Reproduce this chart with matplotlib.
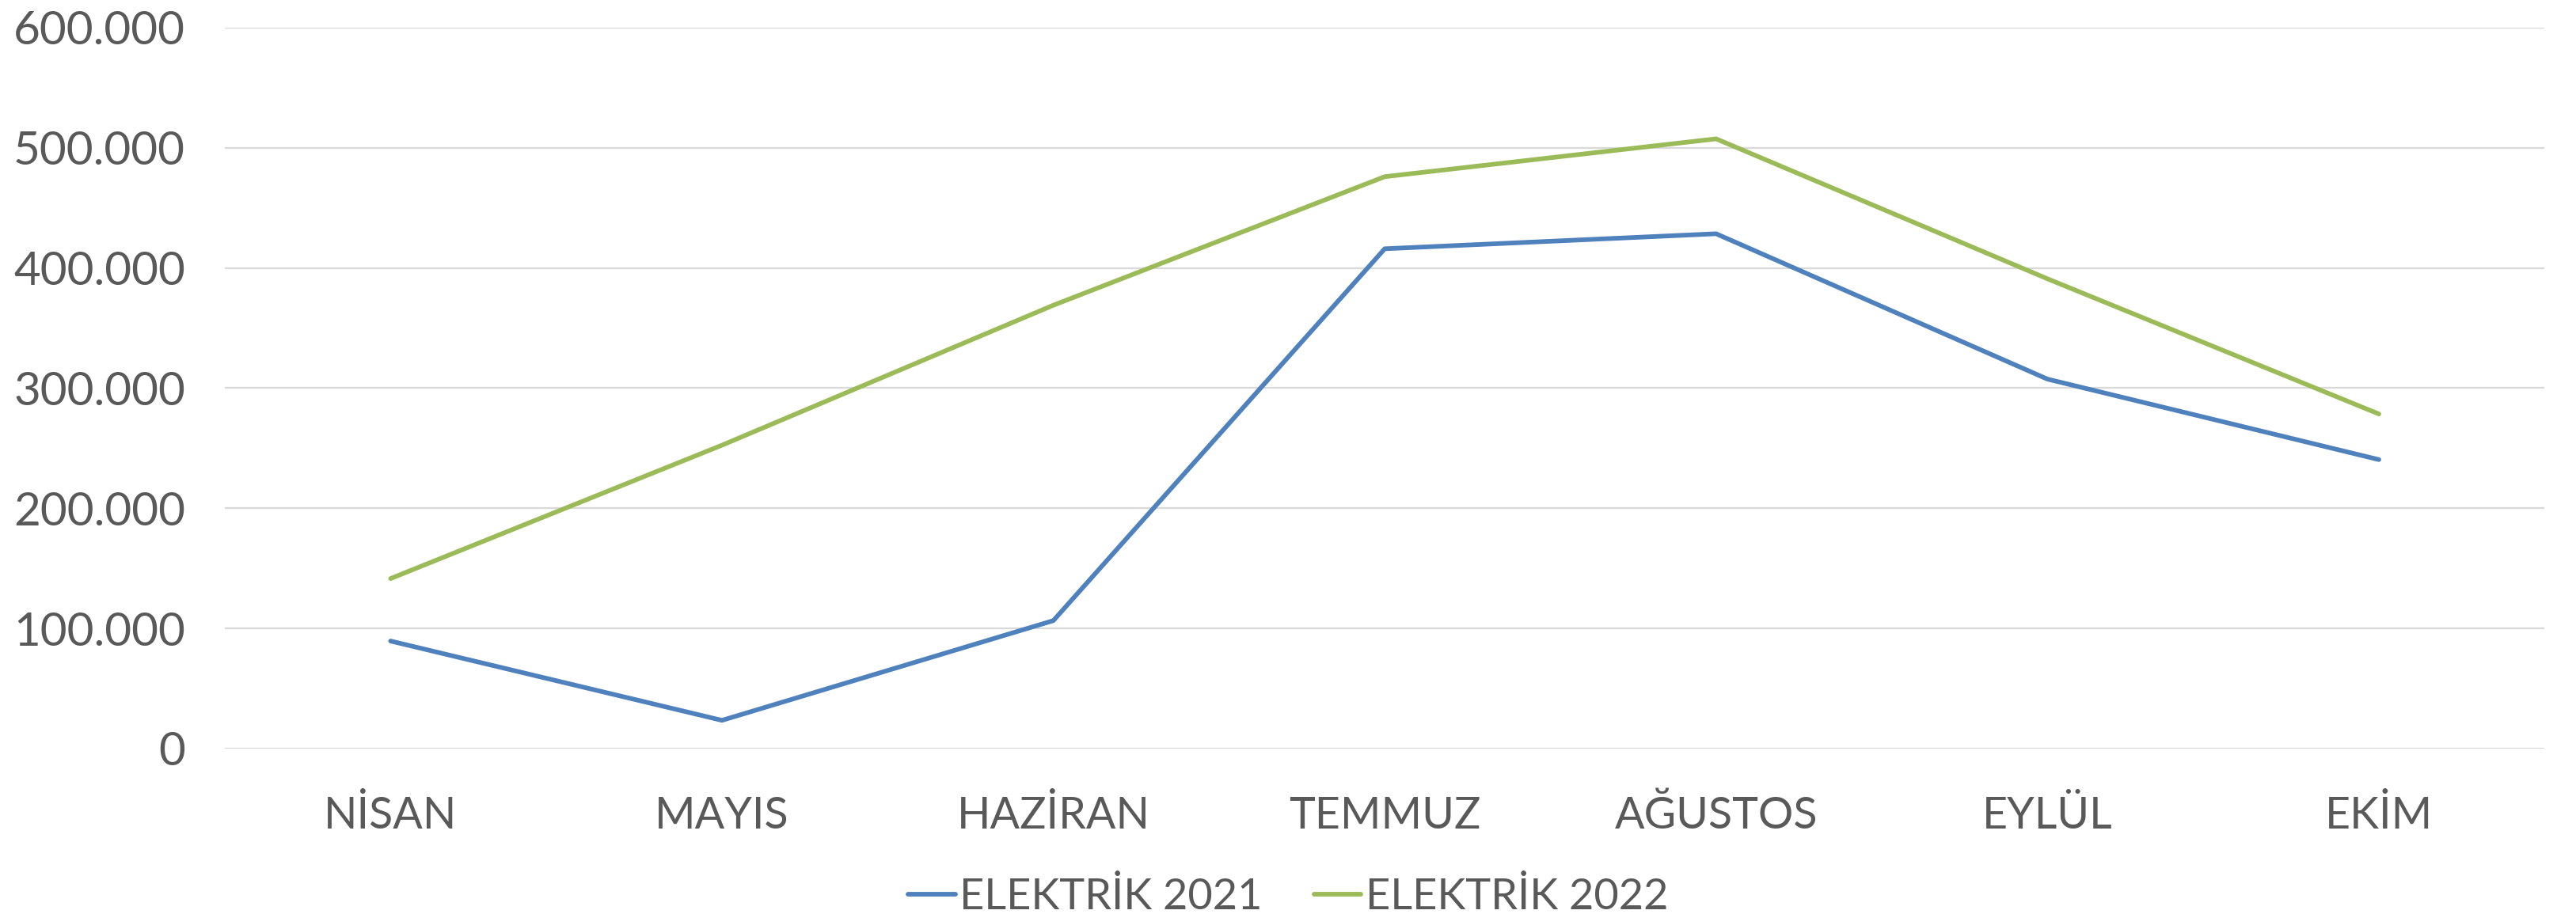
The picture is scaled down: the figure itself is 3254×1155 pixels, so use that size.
import numpy as np
import matplotlib.pyplot as plt
from matplotlib.ticker import FuncFormatter

months = ["NİSAN", "MAYIS", "HAZİRAN", "TEMMUZ", "AĞUSTOS", "EYLÜL", "EKİM"]
elektrik_2021 = [89500, 23500, 106500, 416000, 428500, 307500, 240500]
elektrik_2022 = [141500, 252500, 369000, 476000, 507500, 391000, 278500]

plt.rcParams["font.family"] = ["Lato", "DejaVu Sans"]
text_color = "#595959"

fig = plt.figure(figsize=(32.54, 11.55), dpi=100)
ax = fig.add_axes([0.0873, 0.181, 0.9005, 0.7887])

x = np.arange(len(months))
ax.plot(x, elektrik_2021, color="#4F81BD", lw=4.2, solid_capstyle="round",
        solid_joinstyle="round", label="ELEKTRİK 2021")
ax.plot(x, elektrik_2022, color="#9BBB59", lw=4.2, solid_capstyle="round",
        solid_joinstyle="round", label="ELEKTRİK 2022")

ax.set_xlim(-0.5, len(months) - 0.5)
ax.set_ylim(0, 600000)
ax.set_yticks(np.arange(0, 600001, 100000))
ax.yaxis.set_major_formatter(FuncFormatter(lambda v, p: f"{int(v):,}".replace(",", ".")))
ax.set_xticks(x)
ax.set_xticklabels(months)

ax.grid(axis="y", color="#D9D9D9", lw=1.6)
ax.set_axisbelow(True)
for s in ax.spines.values():
    s.set_visible(False)
ax.tick_params(length=0, colors=text_color)
ax.tick_params(axis="y", labelsize=42, pad=36)
ax.tick_params(axis="x", labelsize=40, pad=43)

leg = fig.legend(loc="lower center", bbox_to_anchor=(0.5, -0.045), ncol=2, frameon=False,
                 fontsize=39, handlelength=1.1, handletextpad=0.1, columnspacing=1.2)
for t in leg.get_texts():
    t.set_color(text_color)

fig.savefig("out.png", dpi=100)
